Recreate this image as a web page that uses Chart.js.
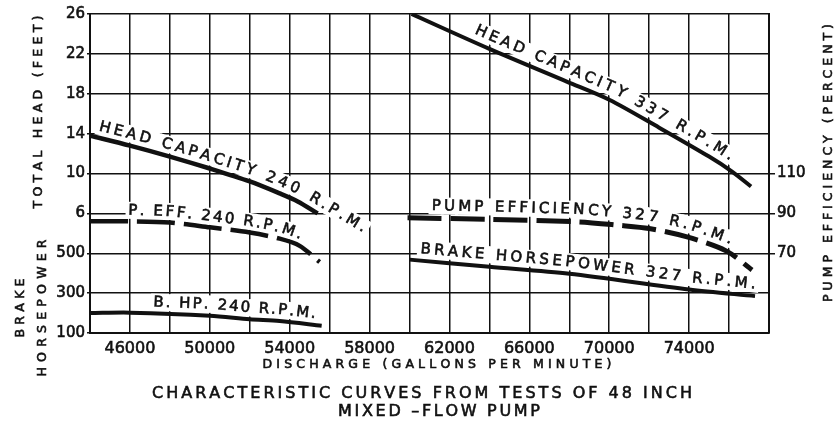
<!DOCTYPE html>
<html>
<head>
<meta charset="utf-8">
<title>Characteristic curves - 48 inch mixed-flow pump</title>
<script src="https://cdn.jsdelivr.net/npm/chart.js@4.4.1/dist/chart.umd.min.js"></script>
<style>
    html, body { margin: 0; padding: 0; background: #fff; }
    #wrap { width: 834px; height: 422px; }
</style>
</head>
<body>
<div id="wrap"><canvas id="pumpChart" width="834" height="422"></canvas></div>
<script>
// Values read from the test sheet
const discharge240 = [44000, 46000, 48000, 50000, 52000, 53500, 54400, 55400];
const head240 = [13.8, 12.8, 11.7, 10.5, 9.2, 8.0, 7.2, 6.0];

const discharge337 = [60100, 64000, 67900, 70000, 72500, 75000, 76150, 77100];
const head337 = [26.0, 22.5, 19.2, 17.4, 14.6, 11.7, 10.2, 8.7];

const dischargeEff240 = [44000, 46000, 48000, 50000, 52000, 53500, 54500, 55500];
const efficiency240 = [86.0, 86.0, 85.4, 83.0, 80.4, 77.3, 73.7, 65.6];

const dischargeEff327 = [59900, 64000, 68500, 70500, 72000, 73850, 75850, 77150];
const efficiency327 = [87.8, 87.0, 85.7, 84.0, 82.4, 78.3, 71.2, 61.6];

const dischargeHp240 = [44000, 46000, 50000, 52000, 53500, 55600];
const horsepower240 = [200, 202, 187, 169, 160, 136];

const dischargeHp327 = [60000, 64000, 68000, 74000, 77300];
const horsepower327 = [468, 432, 397, 318, 285];

// Tick labels
const dischargeTicks = [46000, 50000, 54000, 58000, 62000, 66000, 70000, 74000];
const headTicks = [6, 10, 14, 18, 22, 26];
const horsepowerTicks = [100, 300, 500];
const efficiencyTicks = [70, 90, 110];

const INK = '#111';
const FONT = 'DejaVu Sans';
const STROKE = 0.6;

// Labels written along the curves
const curveLabels = [
    { ds: 0, text: 'HEAD CAPACITY 240 R.P.M.', start: 7, length: 283, offset: 11 },
    { ds: 1, text: 'HEAD CAPACITY 337 R.P.M.', start: 65, length: 285, offset: 12 },
    { ds: 2, text: 'P. EFF. 240 R.P.M.', start: 38, length: 172, offset: 10.5 },
    { ds: 3, text: 'PUMP EFFICIENCY 327 R.P.M.', start: 24, length: 299, offset: 12 },
    { ds: 4, text: 'B. HP. 240 R.P.M.', start: 63, length: 162, offset: 11 },
    { ds: 5, text: 'BRAKE HORSEPOWER 327 R.P.M.', start: 10, length: 337, offset: 11.5 }
];

function toPoints(xs, ys) {
    return xs.map((x, i) => ({ x: x, y: ys[i] }));
}

// Spread the characters of a text over a given length
function layoutChars(ctx, text, length) {
    const chars = [...text];
    const widths = chars.map(c => ctx.measureText(c).width);
    const total = widths.reduce((a, b) => a + b, 0);
    const gap = chars.length > 1 ? (length - total) / (chars.length - 1) : 0;
    let s = 0;
    return chars.map((c, i) => {
        const item = { c: c, s: s + widths[i] / 2, w: widths[i], gap: gap };
        s += widths[i] + gap;
        return item;
    });
}

// Position along a polyline, extended past both ends
function makePath(pts) {
    const cum = [0];
    for (let i = 1; i < pts.length; i++) {
        cum.push(cum[i - 1] + Math.hypot(pts[i].x - pts[i - 1].x, pts[i].y - pts[i - 1].y));
    }
    const total = cum[cum.length - 1];
    return function (s) {
        let i = 1;
        if (s >= total) i = pts.length - 1;
        else if (s > 0) while (cum[i] < s) i++;
        const a = pts[i - 1], b = pts[i];
        const t = (s - cum[i - 1]) / (cum[i] - cum[i - 1]);
        return { x: a.x + (b.x - a.x) * t, y: a.y + (b.y - a.y) * t };
    };
}

function placeLabels(chart, ctx) {
    const placed = [];
    curveLabels.forEach(lab => {
        const pts = chart.getDatasetMeta(lab.ds).data.map(p => ({ x: p.x, y: p.y }));
        const at = makePath(pts);
        layoutChars(ctx, lab.text, lab.length).forEach(ch => {
            const s = lab.start + ch.s;
            const p = at(s);
            const p1 = at(s - 7), p2 = at(s + 7);
            const ang = Math.atan2(p2.y - p1.y, p2.x - p1.x);
            placed.push({
                c: ch.c, w: ch.w, gap: ch.gap, ang: ang,
                x: p.x + Math.sin(ang) * lab.offset,
                y: p.y - Math.cos(ang) * lab.offset
            });
        });
    });
    return placed;
}

// Pen lettering: fill plus a thin stroke
function inkText(ctx, c, x, y) {
    ctx.fillText(c, x, y);
    ctx.strokeText(c, x, y);
}

function drawStraight(ctx, text, cx, cy, length, angle) {
    const chars = layoutChars(ctx, text, length);
    ctx.save();
    ctx.translate(cx, cy);
    ctx.rotate(angle);
    chars.forEach(ch => inkText(ctx, ch.c, ch.s - length / 2, 0));
    ctx.restore();
}

const LABEL_FONT = '15px "' + FONT + '"';

// Plugin: curve labels, extra tick labels and titles
const sheetText = {
    id: 'sheetText',
    beforeDraw(chart) {
        const ctx = chart.ctx;
        ctx.save();
        ctx.fillStyle = '#fff';
        ctx.fillRect(0, 0, chart.width, chart.height);
        ctx.restore();
    },
    beforeDatasetsDraw(chart) {
        // white paper behind the lettering, over the grid
        const ctx = chart.ctx;
        ctx.save();
        ctx.font = LABEL_FONT;
        ctx.fillStyle = '#fff';
        placeLabels(chart, ctx).forEach(ch => {
            ctx.save();
            ctx.translate(ch.x, ch.y);
            ctx.rotate(ch.ang);
            const pad = Math.max(ch.gap, 0) / 2 + 1.5;
            ctx.fillRect(-ch.w / 2 - pad, -9, ch.w + pad * 2, 17);
            ctx.restore();
        });
        ctx.restore();
    },
    afterDatasetsDraw(chart) {
        const ctx = chart.ctx;
        ctx.save();
        ctx.font = LABEL_FONT;
        ctx.textAlign = 'center';
        ctx.textBaseline = 'middle';
        ctx.fillStyle = INK;
        ctx.strokeStyle = INK;
        ctx.lineWidth = STROKE;
        placeLabels(chart, ctx).forEach(ch => {
            ctx.save();
            ctx.translate(ch.x, ch.y);
            ctx.rotate(ch.ang);
            inkText(ctx, ch.c, 0, 0);
            ctx.restore();
        });
        ctx.restore();
    },
    afterDraw(chart) {
        const ctx = chart.ctx;
        const area = chart.chartArea;
        ctx.save();
        ctx.fillStyle = INK;
        ctx.strokeStyle = INK;
        ctx.lineWidth = STROKE;
        ctx.textBaseline = 'middle';

        // Horsepower ticks share the left column
        ctx.font = '15px "' + FONT + '"';
        ctx.textAlign = 'right';
        horsepowerTicks.forEach(v => {
            inkText(ctx, String(v), area.left - 5, chart.scales.yHp.getPixelForValue(v));
        });

        ctx.textAlign = 'center';
        ctx.font = '12.5px "' + FONT + '"';
        drawStraight(ctx, 'TOTAL HEAD (FEET)', 39, 112, 193, -Math.PI / 2);
        drawStraight(ctx, 'BRAKE', 21, 308, 59, -Math.PI / 2);
        drawStraight(ctx, 'HORSEPOWER', 43, 308, 137, -Math.PI / 2);
        drawStraight(ctx, 'PUMP EFFICIENCY (PERCENT)', 829, 163, 278, -Math.PI / 2);
        drawStraight(ctx, 'DISCHARGE (GALLONS PER MINUTE)', 437, 364.5, 349, 0);

        ctx.font = '16px "' + FONT + '"';
        drawStraight(ctx, 'CHARACTERISTIC CURVES FROM TESTS OF 48 INCH', 422, 393.5, 540, 0);
        drawStraight(ctx, 'MIXED \u2013FLOW PUMP', 439, 411.5, 202, 0);
        ctx.restore();
    }
};

const lineStyle = {
    borderColor: INK,
    pointRadius: 0,
    tension: 0.3,
    fill: false,
    borderCapStyle: 'butt'
};

const tickInk = { color: INK, textStrokeColor: INK, textStrokeWidth: STROKE };

new Chart(document.getElementById('pumpChart'), {
    type: 'line',
    data: {
        datasets: [
            Object.assign({ label: 'Head 240', data: toPoints(discharge240, head240), yAxisID: 'yHead', borderWidth: 4.5 }, lineStyle),
            Object.assign({ label: 'Head 337', data: toPoints(discharge337, head337), yAxisID: 'yHead', borderWidth: 4 }, lineStyle),
            Object.assign({ label: 'Eff 240', data: toPoints(dischargeEff240, efficiency240), yAxisID: 'yEff', borderWidth: 4.5, borderDash: [38, 9] }, lineStyle),
            Object.assign({ label: 'Eff 327', data: toPoints(dischargeEff327, efficiency327), yAxisID: 'yEff', borderWidth: 5, borderDash: [34, 9] }, lineStyle),
            Object.assign({ label: 'BHP 240', data: toPoints(dischargeHp240, horsepower240), yAxisID: 'yHp', borderWidth: 4 }, lineStyle),
            Object.assign({ label: 'BHP 327', data: toPoints(dischargeHp327, horsepower327), yAxisID: 'yHp', borderWidth: 4 }, lineStyle)
        ]
    },
    options: {
        responsive: false,
        animation: false,
        layout: { padding: { top: 14, left: 0, right: 0, bottom: 0 } },
        plugins: {
            legend: { display: false },
            tooltip: { enabled: false },
            title: { display: false }
        },
        scales: {
            x: {
                type: 'linear',
                min: 44000,
                max: 78000,
                afterFit: scale => { scale.height = 89; },
                ticks: Object.assign({
                    stepSize: 2000,
                    autoSkip: false,
                    maxRotation: 0,
                    padding: 6,
                    font: { family: FONT, size: 16 },
                    callback: v => dischargeTicks.includes(v) ? String(v) : ''
                }, tickInk),
                grid: { color: INK, lineWidth: 1.5, drawTicks: false },
                border: { color: INK, width: 2 }
            },
            yHead: {
                position: 'left',
                min: -6,
                max: 26,
                afterFit: scale => { scale.width = 90; },
                ticks: Object.assign({
                    stepSize: 4,
                    autoSkip: false,
                    padding: 2,
                    font: { family: FONT, size: 15 },
                    callback: v => headTicks.includes(v) ? String(v) : ''
                }, tickInk),
                grid: { color: INK, lineWidth: 1.5, tickLength: 3 },
                border: { color: INK, width: 2 }
            },
            yHp: {
                display: false,
                min: 100,
                max: 1700
            },
            yEff: {
                position: 'right',
                min: 30,
                max: 190,
                afterFit: scale => { scale.width = 65; },
                ticks: Object.assign({
                    stepSize: 20,
                    autoSkip: false,
                    padding: 2,
                    font: { family: FONT, size: 15 },
                    callback: v => efficiencyTicks.includes(v) ? String(v) : ''
                }, tickInk),
                grid: {
                    drawOnChartArea: false,
                    tickLength: 6,
                    lineWidth: 1.5,
                    color: ctx => (ctx.tick && efficiencyTicks.includes(ctx.tick.value)) ? INK : 'rgba(0,0,0,0)'
                },
                border: { color: INK, width: 2 }
            }
        }
    },
    plugins: [sheetText]
});
</script>
</body>
</html>
